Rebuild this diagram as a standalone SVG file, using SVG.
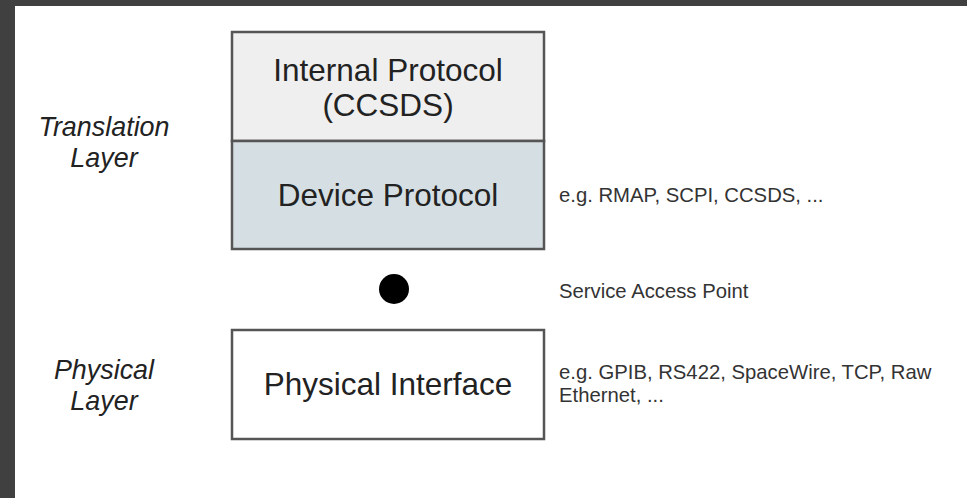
<svg xmlns="http://www.w3.org/2000/svg" width="967" height="498" viewBox="0 0 967 498">
<style>
.box{stroke:#555555;stroke-width:2.5}
.big{font-family:"Liberation Sans",Arial,sans-serif;font-size:31.5px;fill:#222222;text-anchor:middle}
.note{font-family:"Liberation Sans",Arial,sans-serif;font-size:20.3px;fill:#333333}
.layer{font-family:"Liberation Sans",Arial,sans-serif;font-size:26.9px;font-style:italic;fill:#222222;text-anchor:middle}
</style>
<rect x="0" y="0" width="967" height="498" fill="#ffffff"/>
<rect x="0" y="0" width="967" height="6" fill="#404040"/>
<rect x="0" y="0" width="15" height="498" fill="#404040"/>
<g id="internal-protocol">
<rect class="box" x="232" y="32" width="312" height="109" fill="#efefef"/>
<text class="big" x="388" y="81">Internal Protocol</text>
<text class="big" x="388" y="116">(CCSDS)</text>
</g>
<g id="device-protocol">
<rect class="box" x="232" y="141" width="312" height="108" fill="#d5dfe3"/>
<text class="big" x="388" y="206">Device Protocol</text>
</g>
<g id="service-access-point">
<circle cx="394" cy="289" r="15" fill="#000000"/>
</g>
<g id="physical-interface">
<rect class="box" x="232" y="330" width="312" height="109" fill="#ffffff"/>
<text class="big" x="388" y="395">Physical Interface</text>
</g>
<g id="labels">
<text class="layer" x="104" y="136">Translation</text>
<text class="layer" x="104" y="167">Layer</text>
<text class="layer" x="104" y="379">Physical</text>
<text class="layer" x="104" y="410">Layer</text>
<text class="note" x="559" y="202">e.g. RMAP, SCPI, CCSDS, ...</text>
<text class="note" x="559" y="298">Service Access Point</text>
<text class="note" x="559" y="379">e.g. GPIB, RS422, SpaceWire, TCP, Raw</text>
<text class="note" x="559" y="402">Ethernet, ...</text>
</g>
<g id="connectors"></g>
</svg>
